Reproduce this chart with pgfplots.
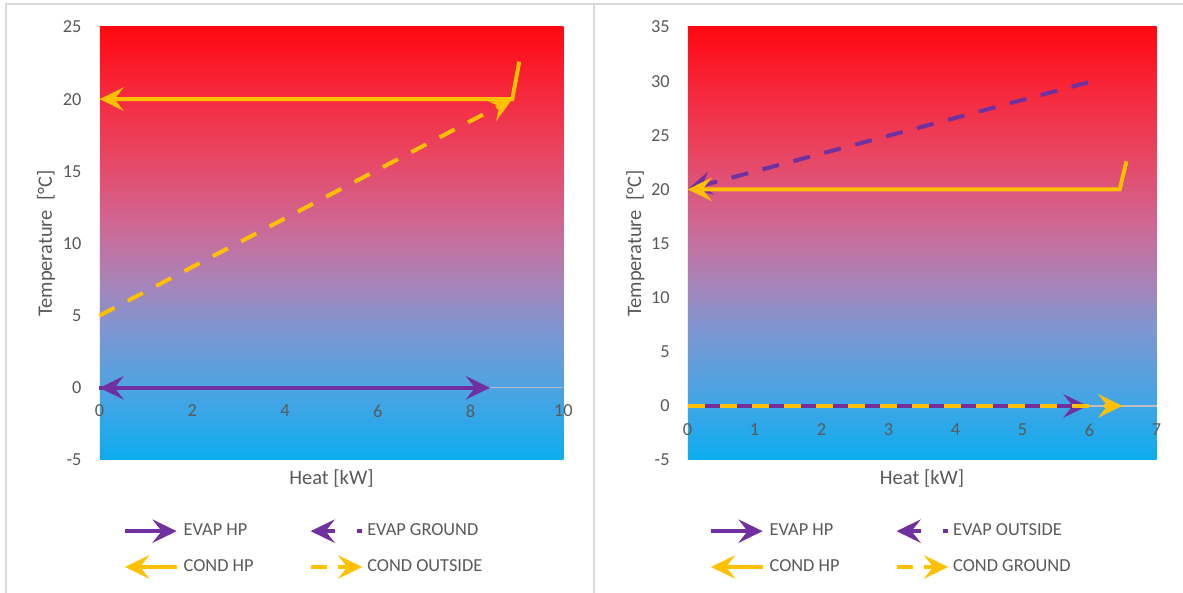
\documentclass[border=0pt]{standalone}
\usepackage{fontspec}
\setmainfont{Carlito}
\usepackage{pgfplots}
\pgfplotsset{compat=1.18}
\usetikzlibrary{arrows.meta}

\definecolor{evap}{RGB}{112,48,160}
\definecolor{cond}{RGB}{255,192,0}
\definecolor{txt}{RGB}{89,89,89}
\definecolor{framegray}{RGB}{217,217,217}
\definecolor{axisgray}{RGB}{191,191,191}

% background gradient, cold (bottom) to hot (top)
\definecolor{g0}{RGB}{12,172,238}
\definecolor{g1}{RGB}{72,164,228}
\definecolor{g2}{RGB}{125,150,210}
\definecolor{g3}{RGB}{172,130,182}
\definecolor{g4}{RGB}{208,102,146}
\definecolor{g5}{RGB}{232,70,100}
\definecolor{g6}{RGB}{246,40,60}
\definecolor{g7}{RGB}{255,8,16}
\pgfdeclareverticalshading{plotbg}{100bp}{%
  color(0bp)=(g0); color(25bp)=(g0); color(32.5bp)=(g1); color(40bp)=(g2);
  color(46bp)=(g3); color(52.5bp)=(g4); color(60bp)=(g5); color(67.5bp)=(g6);
  color(75bp)=(g7); color(100bp)=(g7)}

\tikzset{>={Stealth[length=14.5pt,width=14pt,inset=5.5pt]}}

\newcommand{\chartfont}{\fontsize{11}{13}\selectfont}
\newcommand{\titlefont}{\fontsize{12.3}{14}\selectfont}

\pgfplotsset{
  panel/.style={
    scale only axis,
    height=259.8pt,
    axis x line=bottom, axis y line=left,
    axis line style={-},
    x axis line style={draw=none},
    y axis line style={draw=white!85!gray, line width=0.6pt},
    major tick length=0pt,
    /pgf/number format/assume math mode=true,
    tick label style={font=\chartfont, text=txt},
    yticklabel style={anchor=east, inner sep=0pt, xshift=-10.6pt},
    every axis x label/.style={at={(axis description cs:0.5,-0.0416)}, anchor=center, font=\titlefont, text=txt},
    xlabel={Heat [kW]},
    ylabel={Temperature\ \ [°C]},
    axis background/.style={shading=plotbg},
    clip=false,
    legend columns=2,
    legend cell align=left,
    legend style={draw=none, fill=none, inner sep=0pt, outer sep=0pt,
      font=\chartfont, text=txt, row sep=7.5pt,
      nodes={inner sep=0pt, text=txt},
      /tikz/column 1/.style={column sep=3pt},
      /tikz/column 2/.style={column sep=33pt},
      /tikz/column 3/.style={column sep=1.8pt}},
  },
  thick line/.style={line width=2.4pt},
  dash line/.style={line width=2.4pt, dash pattern=on 10.2pt off 9pt},
  % legend samples
  img evap hp/.style={legend image code/.code={
      \draw[evap, line width=2.4pt, solid, ->] (0pt,0pt) -- (31pt,0pt);}},
  img evap dashed/.style={legend image code/.code={
      \draw[evap, line width=2.4pt, solid, <-] (0pt,0pt) -- (14.5pt,0pt);
      \draw[evap, line width=2.4pt, solid, -] (27.6pt,0pt) -- (31pt,0pt);}},
  img cond hp/.style={legend image code/.code={
      \draw[cond, line width=2.4pt, solid, <-] (0pt,0pt) -- (31pt,0pt);}},
  img cond dashed/.style={legend image code/.code={
      \draw[cond, line width=2.4pt, solid, -] (0pt,0pt) -- (10pt,0pt);
      \draw[cond, line width=2.4pt, solid, ->] (16.5pt,0pt) -- (31pt,0pt);}},
}

\begin{document}
\begin{tikzpicture}[x=0.6pt,y=0.6pt]
\useasboundingbox (0,0) rectangle (1183,593);

% panel frames
\draw[framegray, line width=0.8pt] (6,0) -- (6,589) -- (1183,589);
\draw[framegray, line width=0.8pt] (594,0) -- (594,589);

% ground source case
\begin{axis}[panel,
  at={(59.7pt,79.8pt)}, anchor=south west,
  width=278.3pt,
  xmin=0, xmax=10, ymin=-5, ymax=25,
  xtick={0,2,...,10}, ytick={-5,0,...,25},
  xticklabel style={anchor=center, yshift=29.4pt},
  every axis y label/.style={at={(axis description cs:-0.1153,0.5)}, rotate=90, anchor=center, font=\titlefont, text=txt},
  legend style={at={(axis description cs:0.0507,-0.1374)}, anchor=north west},
]
% horizontal axis line at zero
\addplot[axisgray, line width=0.8pt, forget plot] coordinates {(0,0) (10,0)};
\addplot[evap, thick line, ->, img evap hp] coordinates {(0,0) (8.42,0)};
\addlegendentry{EVAP HP}
\addplot[evap, dash line, <-, img evap dashed] coordinates {(0,0) (8.42,0)};
\addlegendentry{EVAP GROUND}
\addplot[cond, thick line, <-, img cond hp] coordinates {(0,20) (8.9,20) (9.05,22.6)};
\addlegendentry{COND HP}
\addplot[cond, dash line, ->, img cond dashed] coordinates {(0,5) (8.9,20)};
\addlegendentry{COND OUTSIDE}
\end{axis}

% outside air case
\begin{axis}[panel,
  at={(412.56pt,79.8pt)}, anchor=south west,
  width=281.4pt,
  xmin=0, xmax=7, ymin=-5, ymax=35,
  xtick={0,1,...,7}, ytick={-5,0,...,35},
  xticklabel style={anchor=center, yshift=18pt},
  every axis y label/.style={at={(axis description cs:-0.1113,0.5)}, rotate=90, anchor=center, font=\titlefont, text=txt},
  legend style={at={(axis description cs:0.0456,-0.1374)}, anchor=north west},
]
% horizontal axis line at zero
\addplot[axisgray, line width=0.8pt, forget plot] coordinates {(0,0) (7,0)};
\addplot[evap, thick line, ->, img evap hp] coordinates {(0,0) (5.97,0)};
\addlegendentry{EVAP HP}
\addplot[evap, dash line, <-, img evap dashed] coordinates {(0,20) (6.05,30)};
\addlegendentry{EVAP OUTSIDE}
\addplot[cond, thick line, <-, img cond hp] coordinates {(0,20) (6.45,20) (6.55,22.6)};
\addlegendentry{COND HP}
\addplot[cond, dash line, ->, img cond dashed] coordinates {(0,0) (6.49,0)};
\addlegendentry{COND GROUND}
\end{axis}
\end{tikzpicture}
\end{document}
